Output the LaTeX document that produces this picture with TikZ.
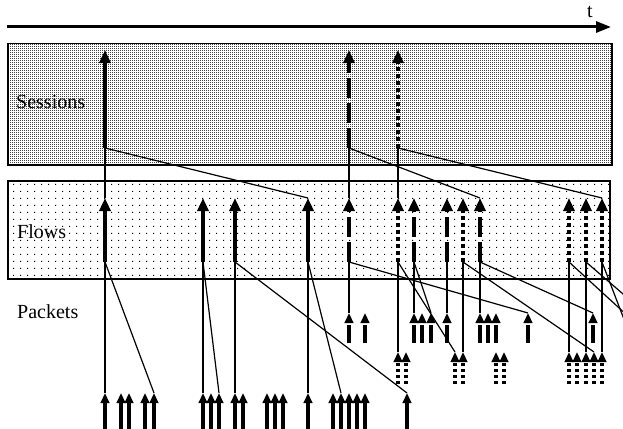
\documentclass[tikz,border=0pt]{standalone}
\usepackage{fontspec}
\setmainfont{Liberation Serif}
\usetikzlibrary{arrows.meta, patterns}

\pgfdeclarepatternformonly{sessdots}{\pgfpointorigin}{\pgfpoint{2.2pt}{2.2pt}}{\pgfpoint{2.2pt}{2.2pt}}{\pgfpathrectangle{\pgfpointorigin}{\pgfpoint{1.1pt}{1.1pt}}\pgfusepath{fill}}
\pgfdeclarepatternformonly{flowdots}{\pgfpointorigin}{\pgfpoint{6.6pt}{6.6pt}}{\pgfpoint{6.6pt}{6.6pt}}{\pgfpathrectangle{\pgfpointorigin}{\pgfpoint{1.2pt}{1.2pt}}\pgfusepath{fill}}

\begin{document}
\begin{tikzpicture}[x=1pt, y=-1pt,
    box/.style={draw, line width=1.5pt, anchor=north west, inner sep=0pt},
    lbl/.style={anchor=base west, inner sep=0pt, font=\fontsize{20}{24}\selectfont},
    timeline/.style={-{Triangle[length=15pt, width=11pt]}, line width=3pt},
    big/.style={-{Triangle[length=13pt, width=11pt]}, line width=4.5pt},
    bigdash/.style={big, dash pattern=on 20pt off 5pt},
    bigdot/.style={big, dash pattern=on 4pt off 3pt},
    pkt/.style={-{Triangle[length=10pt, width=8.5pt]}, line width=3.3pt},
    pktdash/.style={pkt, dash pattern=on 18pt off 20pt},
    pktdot/.style={pkt, dash pattern=on 3pt off 3pt},
    link/.style={line width=1.2pt}
]
\useasboundingbox (0,0) rectangle (623,428);
\clip (0,0) rectangle (623,428);

\coordinate (t0) at (7,27);
\coordinate (t1) at (611,27);
\draw[timeline] (t0) -- (t1);
\node[lbl] (tlbl) at (587,18) {t};

\node[box, pattern=sessdots, pattern color=black!75, minimum width=604pt, minimum height=121pt] (sessions) at (7,43) {};
\node[box, pattern=flowdots, minimum width=602pt, minimum height=98pt] (flows) at (7,180) {};

\node[lbl] (sesslbl) at (16,108) {Sessions};
\node[lbl] (flowlbl) at (17,238) {Flows};
\node[lbl] (pktlbl) at (17,318) {Packets};

\foreach \x/\s in {105/big, 349/bigdash, 398/bigdot} {
  \coordinate (sb\x) at (\x,148);
  \coordinate (st\x) at (\x,50);
  \draw[\s] (sb\x) -- (st\x);
}
\foreach \x/\s in {105/big, 203/big, 235/big, 308/big, 349/bigdash, 414/bigdash, 447/bigdash, 480/bigdash,
                   398/bigdot, 463/bigdot, 569/bigdot, 586/bigdot, 602/bigdot} {
  \coordinate (fb\x) at (\x,262);
  \coordinate (ft\x) at (\x,198);
  \draw[\s] (fb\x) -- (ft\x);
}

\foreach \x in {105,121,129,145,154,203,211,219,235,243,267,275,283,308,333,341,349,357,365,407} {
  \coordinate (pb\x) at (\x,432);
  \coordinate (pt\x) at (\x,393);
  \draw[pkt] (pb\x) -- (pt\x);
}
\foreach \x in {349,365,414,422,431,447,480,488,496,528,593} {
  \coordinate (db\x) at (\x,343);
  \coordinate (dt\x) at (\x,313);
  \draw[pktdash] (db\x) -- (dt\x);
}
\foreach \x in {398,406,455,463,496,504,569,577,586,594,602} {
  \coordinate (ob\x) at (\x,384);
  \coordinate (ot\x) at (\x,352);
  \draw[pktdot] (ob\x) -- (ot\x);
}

\foreach \a/\b in {105/105, 105/308, 349/349, 349/480, 398/398, 398/602}
  \draw[link] (sb\a) -- (ft\b);
\foreach \a/\b in {105/105, 105/154, 203/203, 203/219, 235/235, 235/407, 308/308, 308/341}
  \draw[link] (fb\a) -- (pt\b);
\foreach \a/\b in {349/349, 349/528, 414/414, 414/431, 447/447, 480/480, 480/593}
  \draw[link] (fb\a) -- (dt\b);
\foreach \a/\b in {398/398, 398/455, 463/463, 463/594, 569/569, 586/586, 602/602}
  \draw[link] (fb\a) -- (ot\b);

\coordinate (out569) at (630,318);
\coordinate (out586) at (630,300);
\coordinate (out602) at (630,335);
\foreach \a in {569,586,602}
  \draw[link] (fb\a) -- (out\a);
\end{tikzpicture}
\end{document}
